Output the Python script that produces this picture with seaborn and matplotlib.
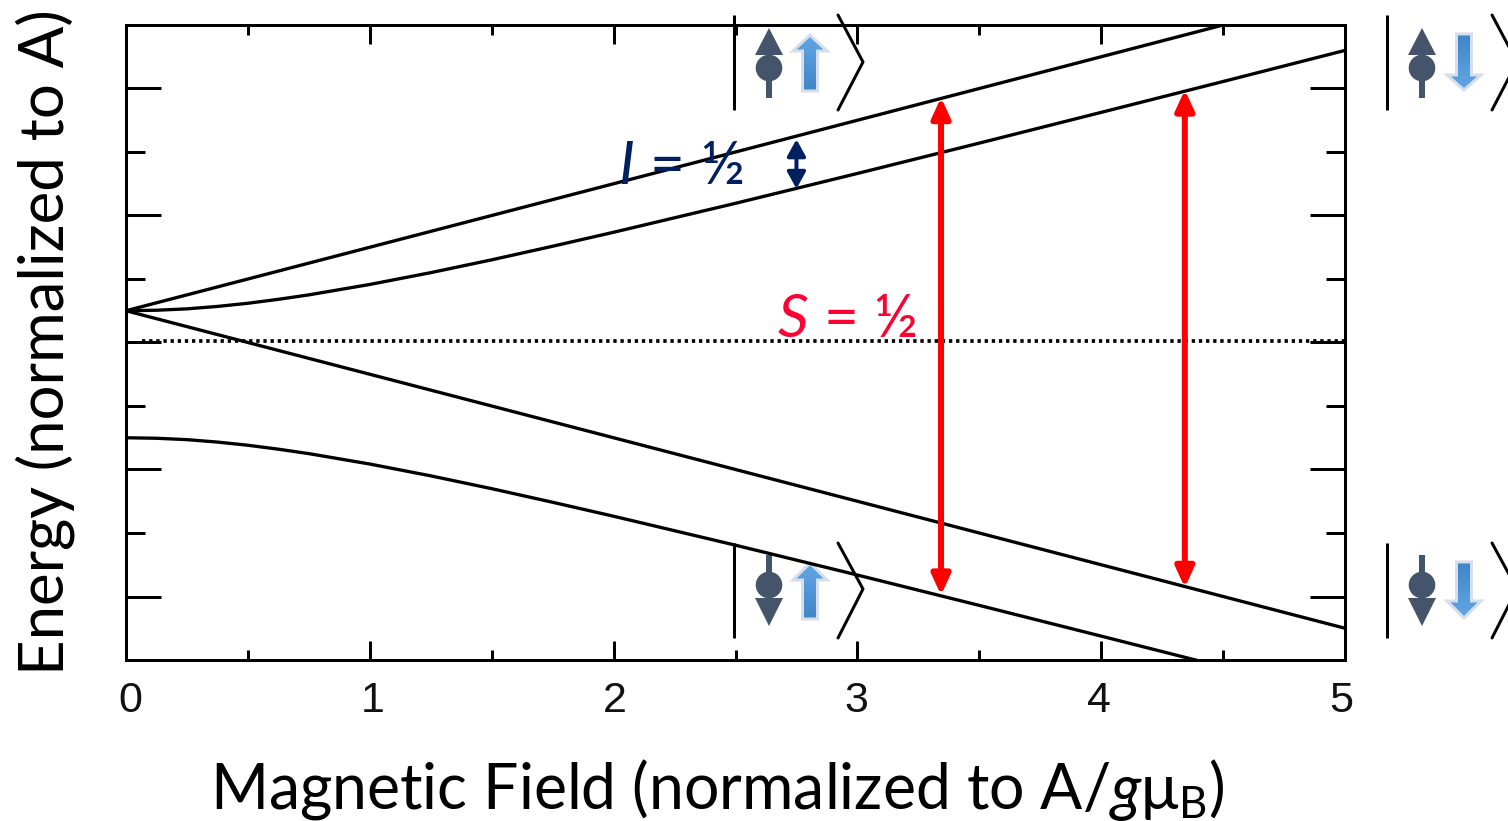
import numpy as np
import pandas as pd
import matplotlib
matplotlib.use("Agg")
import matplotlib.pyplot as plt
from matplotlib.patches import Polygon, Circle, Rectangle
from matplotlib.transforms import ScaledTranslation
import seaborn as sns

# values
field = [0, 0.125, 0.25, 0.375, 0.5, 0.625, 0.75, 1, 1.25, 1.5, 1.75, 2, 2.5, 3, 3.5, 4, 4.5, 5]
upper_a = [0.25, 0.3125, 0.375, 0.4375, 0.5, 0.5625, 0.625, 0.75, 0.875, 1.0, 1.125, 1.25, 1.5, 1.75, 2.0, 2.25, 2.5, 2.75]
upper_b = [0.25, 0.254, 0.265, 0.284, 0.309, 0.34, 0.375, 0.457, 0.55, 0.651, 0.758, 0.868, 1.096, 1.331, 1.57, 1.812, 2.055, 2.3]
lower_a = [0.25, 0.1875, 0.125, 0.0625, 0.0, -0.0625, -0.125, -0.25, -0.375, -0.5, -0.625, -0.75, -1.0, -1.25, -1.5, -1.75, -2.0, -2.25]
lower_b = [-0.75, -0.754, -0.765, -0.784, -0.809, -0.84, -0.875, -0.957, -1.05, -1.151, -1.258, -1.368, -1.596, -1.831, -2.07, -2.312, -2.555, -2.8]
zero_x = [0.065, 5]
zero_y = [0.015, 0.015]
red_arrows = [(3.343, 1.93, -1.99), (4.343, 1.99, -1.93)]
blue_arrow = (2.75, 1.60, 1.21)
x_ticks = [0, 1, 2, 3, 4, 5]
x_minor = [0.5, 1.5, 2.5, 3.5, 4.5]
y_ticks = [-2, -1, 0, 1, 2]
y_minor = [-1.5, -0.5, 0.5, 1.5]
x_label_shift = [4, 3, 1, -1, -2, -4]

sns.set_theme(style="white")
plt.rcParams["font.family"] = ["Lato", "DejaVu Sans"]
plt.rcParams["mathtext.fontset"] = "custom"
plt.rcParams["mathtext.rm"] = "Lato"
plt.rcParams["mathtext.it"] = "Lato:italic"
plt.rcParams["mathtext.bf"] = "Lato:bold"

W, H = 1508, 821
PX = 0.72
LW = 3.3 * PX
fig = plt.figure(figsize=(W / 100, H / 100), dpi=100)
ax = fig.add_axes([126 / W, (H - 660) / H, 1219 / W, 635 / H], facecolor="none", zorder=2)

# the kets sit in a pixel axes behind the chart
bg = fig.add_axes([0, 0, 1, 1], zorder=1)
bg.set_xlim(0, W)
bg.set_ylim(H, 0)
bg.axis("off")

df = pd.DataFrame({"field": field, "a": upper_a, "b": upper_b, "c": lower_a, "d": lower_b})
for col in ["a", "b", "c", "d"]:
    sns.lineplot(data=df, x="field", y=col, ax=ax, color="black", lw=LW, errorbar=None)
ax.plot(zero_x, zero_y, color="black", lw=3.7 * PX, linestyle=(0, (0.9, 1.03)), dash_capstyle="butt")

ax.set_xlim(0, 5)
ax.set_ylim(-2.5, 2.5)
ax.set_xticks(x_ticks)
ax.set_xticks(x_minor, minor=True)
ax.set_yticks(y_ticks)
ax.set_yticks(y_minor, minor=True)
ax.set_yticklabels([])
ax.tick_params(axis="x", which="major", direction="in", top=True, bottom=True, length=19 * PX,
               width=3 * PX, color="black", labelsize=31, pad=15, labelcolor="#111111")
ax.tick_params(axis="x", which="minor", direction="in", top=True, bottom=True, length=10 * PX,
               width=3 * PX, color="black")
ax.tick_params(axis="y", which="major", direction="in", left=True, right=True, length=35 * PX,
               width=3 * PX, color="black")
ax.tick_params(axis="y", which="minor", direction="in", left=True, right=True, length=19 * PX,
               width=3 * PX, color="black")
for s in ax.spines.values():
    s.set_visible(True)
    s.set_color("black")
    s.set_linewidth(3 * PX)
for lab, dx in zip(ax.get_xticklabels(), x_label_shift):
    lab.set_family("Liberation Sans")
    lab.set_transform(lab.get_transform() + ScaledTranslation(dx / 100, 0, fig.dpi_scale_trans))

ax.set_xlabel("Magnetic Field (normalized to A/$\\mathit{g}\\mathrm{\\mu}_{\\mathrm{B}}$)",
              fontsize=45, color="black")
ax.xaxis.set_label_coords(0.485, -0.152)
ax.set_ylabel("Energy (normalized to A)", fontsize=44.5, color="black")
ax.yaxis.set_label_coords(-0.042, 0.5)

for x, y0, y1 in red_arrows:
    ax.annotate("", xy=(x, y1), xytext=(x, y0),
                arrowprops=dict(arrowstyle="<|-|>,head_length=1.2,head_width=0.55", color="#ff0000",
                                lw=6 * PX, mutation_scale=10, shrinkA=0, shrinkB=0))
ax.annotate("", xy=(blue_arrow[0], blue_arrow[2]), xytext=(blue_arrow[0], blue_arrow[1]),
            arrowprops=dict(arrowstyle="<|-|>,head_length=1.0,head_width=0.55", color="#002060",
                            lw=4 * PX, mutation_scale=10, shrinkA=0, shrinkB=0))

# text goes over the lines, so it belongs to the top axes but uses pixel coords
ax.text(681, 167, "$\\mathit{I}$ = ½", color="#002060", fontsize=43.5, ha="center", va="center",
        transform=bg.transData, clip_on=False)
ax.text(847, 320, "$\\mathit{S}$ = ½", color="#ff0033", fontsize=43.5, ha="center", va="center",
        transform=bg.transData, clip_on=False)


def electron(cx, y_stem, y_circle, y_base, y_tip):
    col = "#44546a"
    bg.add_patch(Rectangle((cx - 2.7, min(y_stem, y_circle)), 5.4, abs(y_stem - y_circle), color=col, lw=0))
    bg.add_patch(Circle((cx, y_circle), 13.3, color=col, lw=0))
    bg.add_patch(Polygon([(cx - 14, y_base), (cx + 14, y_base), (cx, y_tip)], closed=True, color=col, lw=0))


def block_arrow(cx, y_tail, y_neck, y_tip):
    pts = [(cx - 7.5, y_tail), (cx + 7.5, y_tail), (cx + 7.5, y_neck), (cx + 17, y_neck),
           (cx, y_tip), (cx - 17, y_neck), (cx - 7.5, y_neck)]
    poly = Polygon(pts, closed=True, facecolor="none", edgecolor="none")
    bg.add_patch(poly)
    top, bottom = min(y_tail, y_tip), max(y_tail, y_tip)
    grad = np.linspace(0, 1, 64).reshape(-1, 1)
    cmap = matplotlib.colors.LinearSegmentedColormap.from_list("blu", ["#62a6e4", "#3f86c8"])
    if y_tip > y_tail:
        grad = grad[::-1]
    im = bg.imshow(grad, extent=(cx - 18, cx + 18, bottom, top), cmap=cmap, aspect="auto", zorder=1.5)
    im.set_clip_path(poly)
    bg.add_patch(Polygon(pts, closed=True, facecolor="none", edgecolor="#d5deea", lw=3 * PX, zorder=1.6))


def ket(x_bar, x_brack, y0, y_mid, y1):
    bg.plot([x_bar, x_bar], [y0, y1], color="black", lw=3 * PX, solid_capstyle="butt")
    bg.plot([x_brack, x_brack + 25, x_brack], [y0, y_mid, y1], color="black", lw=3 * PX)


ket(734, 838, 15, 62, 110)
electron(769, 98, 68, 55, 28)
block_arrow(810, 91, 51, 35)

ket(1387, 1492, 15, 62, 110)
electron(1422, 98, 68, 55, 28)
block_arrow(1464, 34, 75, 90)

ket(734, 838, 543, 589, 638)
electron(769, 555, 585, 598, 626)
block_arrow(810, 619, 580, 563)

ket(1387, 1492, 543, 589, 638)
electron(1422, 555, 585, 598, 626)
block_arrow(1464, 562, 601, 618)

bg.set_xlim(0, W)
bg.set_ylim(H, 0)
fig.savefig("out.png", dpi=100, facecolor="white")
